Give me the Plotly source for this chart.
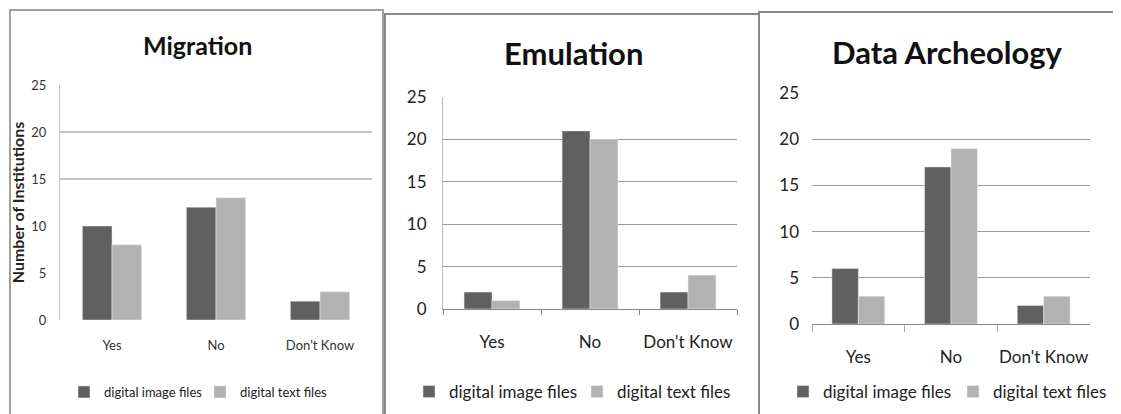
import plotly.graph_objects as go

categories = ["Yes", "No", "Don't Know"]
series_names = ["digital image files", "digital text files"]

migration_image = [10, 12, 2]
migration_text = [8, 13, 3]
emulation_image = [2, 21, 2]
emulation_text = [1, 20, 4]
archeology_image = [6, 17, 2]
archeology_text = [3, 19, 3]

y_ticks = [0, 5, 10, 15, 20, 25]
migration_grid = [15, 20]

DARK = "#606060"
LIGHT = "#b2b2b2"
FONT = "Lato"
W, H = 1121, 414
OX, OY = 8, 8  # the page body margin moves the figure by this much
FW, FH = W - OX, H - OY


def px_x(v):
    return (v - OX) / FW


def px_y(v):
    return 1 - (v - OY) / FH


fig = go.Figure()

panels = [
    (migration_image, migration_text, "x", "y", "legend"),
    (emulation_image, emulation_text, "x2", "y2", "legend2"),
    (archeology_image, archeology_text, "x3", "y3", "legend3"),
]

for img, txt, xa, ya, lg in panels:
    fig.add_trace(go.Bar(x=categories, y=img, name=series_names[0], marker_color=DARK,
                         xaxis=xa, yaxis=ya, legend=lg))
    fig.add_trace(go.Bar(x=categories, y=txt, name=series_names[1], marker_color=LIGHT,
                         xaxis=xa, yaxis=ya, legend=lg))

# plot area positions (pixels) for each panel: left, right, y of 0, y of 25
areas = [(60, 372, 320, 85), (443, 737, 309, 97), (812, 1090, 324, 93)]

layout = dict(
    width=FW, height=FH, margin=dict(l=0, r=0, t=0, b=0, autoexpand=False),
    paper_bgcolor="white", plot_bgcolor="white",
    barmode="group", bargap=0.43, bargroupgap=0,
    font=dict(family=FONT, color="#222"),
)

# Migration axes
layout["xaxis"] = dict(domain=[px_x(areas[0][0]), px_x(areas[0][1])], anchor="y",
                       showline=False, ticks="", tickangle=0,
                       tickfont=dict(size=13, color="#333"),
                       ticklabelstandoff=16, automargin=False)
layout["yaxis"] = dict(domain=[px_y(areas[0][2]), px_y(areas[0][3])], anchor="x",
                       range=[0, 25], tickvals=y_ticks, showgrid=False, zeroline=False,
                       showline=True, linecolor="#c8c8c8", linewidth=1,
                       tickfont=dict(size=13, color="#333"), ticklabelstandoff=10,
                       automargin=False,
                       title=dict(text="<b>Number of Institutions</b>",
                                  font=dict(size=16, color="#222"), standoff=3))

# Emulation axes
layout["xaxis2"] = dict(domain=[px_x(areas[1][0]), px_x(areas[1][1])], anchor="y2",
                        showline=True, linecolor="#888", linewidth=1, tickangle=0,
                        ticks="outside", tickson="boundaries", ticklen=5, tickcolor="#888",
                        tickfont=dict(size=17, color="#222"), ticklabelstandoff=18,
                        automargin=False)
layout["yaxis2"] = dict(domain=[px_y(areas[1][2]), px_y(areas[1][3])], anchor="x2",
                        range=[0, 25], tickvals=y_ticks, showgrid=True, gridcolor="#999",
                        zeroline=False, showline=True, linecolor="#bbb", linewidth=1,
                        tickfont=dict(size=17, color="#222"), ticklabelstandoff=12,
                        automargin=False)

# Data Archeology axes
layout["xaxis3"] = dict(domain=[px_x(areas[2][0]), px_x(areas[2][1])], anchor="y3",
                        showline=True, linecolor="#888", linewidth=1, tickangle=0,
                        ticks="outside", tickson="boundaries", ticklen=7, tickcolor="#aaa",
                        tickfont=dict(size=17, color="#222"), ticklabelstandoff=18,
                        automargin=False)
layout["yaxis3"] = dict(domain=[px_y(areas[2][2]), px_y(areas[2][3])], anchor="x3",
                        range=[0, 25], tickvals=y_ticks, showgrid=True, gridcolor="#999",
                        zeroline=False, showline=False,
                        tickfont=dict(size=17, color="#222"), ticklabelstandoff=12,
                        automargin=False)

# legends: (name, left of first square, item pitch, font size)
legend_specs = [("legend", 78, 135, 13), ("legend2", 423, 167, 17), ("legend3", 797, 169, 17)]
for name, left, pitch, size in legend_specs:
    layout[name] = dict(orientation="h", xref="container", yref="container",
                        x=px_x(left - 14), y=px_y(392), yanchor="middle", xanchor="left",
                        font=dict(size=size, color="#222"), itemwidth=30,
                        entrywidth=pitch - 44, entrywidthmode="pixels",
                        bgcolor="rgba(0,0,0,0)", borderwidth=0)

fig.update_layout(**layout)

# titles
titles = [("Migration", 197, 45, 25), ("Emulation", 573, 53, 31), ("Data Archeology", 947, 52, 31)]
for text, cx, cy, size in titles:
    fig.add_annotation(text=f"<b>{text}</b>", x=px_x(cx), y=px_y(cy), xref="paper", yref="paper",
                       showarrow=False, xanchor="center", yanchor="middle",
                       font=dict(size=size, color="#111", family=FONT))

# the two gridlines of the Migration chart
for g in migration_grid:
    fig.add_shape(type="line", xref="x domain", yref="y", x0=0, x1=1, y0=g, y1=g,
                  line=dict(color="#888", width=1))

# panel frames
frames = [(10, 10, 383, "#a0a0a0"), (385, 14, 759, "#888"), (759, 12, 1125, "#888")]
for x0, y0, x1, col in frames:
    fig.add_shape(type="rect", xref="paper", yref="paper",
                  x0=px_x(x0), x1=px_x(x1), y0=px_y(y0), y1=-0.1,
                  line=dict(color=col, width=2), layer="below")

fig.write_html("out.html")
